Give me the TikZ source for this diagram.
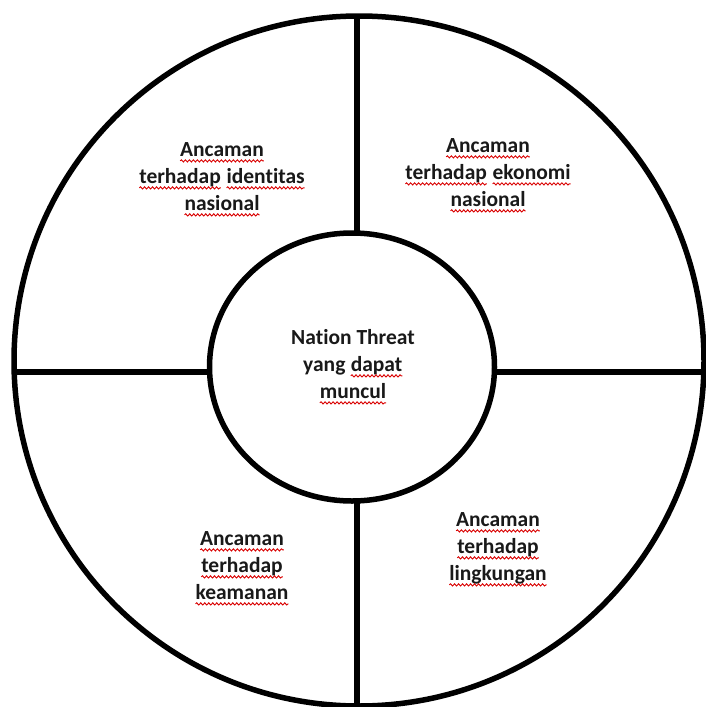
\documentclass[tikz,border=0pt]{standalone}
\usepackage{fontspec}
\setmainfont{Carlito}[Ligatures=NoCommon]
\usetikzlibrary{shapes.geometric, decorations.pathmorphing}
\newcommand{\spellmark}[1]{\tikz[baseline=(w.base)]{\node[inner sep=0pt, outer sep=0pt] (w) {#1};
  \draw[red!85!black, line width=0.9pt, decorate, decoration={snake, amplitude=1.1pt, segment length=4pt}]
    ([yshift=-4.5pt]w.base west) -- ([yshift=-4.5pt]w.base east);}}

\begin{document}
\begin{tikzpicture}[x=1pt, y=-1pt, line width=5.5pt,
  ring/.style={draw, circle, minimum size=690pt, inner sep=0pt, outer sep=0pt},
  hub/.style={draw, ellipse, minimum width=285pt, minimum height=268pt, inner sep=0pt, outer sep=0pt},
  spoke/.style={draw, line width=5.5pt},
  threat/.style={align=center, inner sep=0pt, text=black!90,
                 font=\bfseries\fontsize{21.5}{27}\selectfont}]
  \useasboundingbox (0,0) rectangle (705,707);
  \node[ring] (outer) at (359,361) {};
  \node[hub] (inner) at (352,367) {};
  \coordinate (n) at (357,16);
  \coordinate (s) at (357,712);
  \coordinate (w) at (14,372);
  \coordinate (e) at (712,372);
  \draw[spoke] (n) -- (inner.north -| n);
  \draw[spoke] (inner.south -| s) -- (s);
  \draw[spoke] (w) -- (inner.west |- w);
  \draw[spoke] (inner.east |- e) -- (e);
  \node[threat] (identity) at (222,178) {\strut\spellmark{Ancaman}\\
    \strut\spellmark{terhadap} \spellmark{identitas}\\ \strut\spellmark{nasional}};
  \node[threat] (economy) at (488,174) {\strut\spellmark{Ancaman}\\
    \strut\spellmark{terhadap} \spellmark{ekonomi}\\ \strut\spellmark{nasional}};
  \node[threat] (core) at (353,366) {\strut Nation Threat\\
    \strut yang \spellmark{dapat}\\ \strut\spellmark{muncul}};
  \node[threat] (security) at (242,567) {\strut\spellmark{Ancaman}\\
    \strut\spellmark{terhadap}\\ \strut\spellmark{keamanan}};
  \node[threat] (environment) at (498,548) {\strut\spellmark{Ancaman}\\
    \strut\spellmark{terhadap}\\ \strut\spellmark{lingkungan}};
\end{tikzpicture}
\end{document}
